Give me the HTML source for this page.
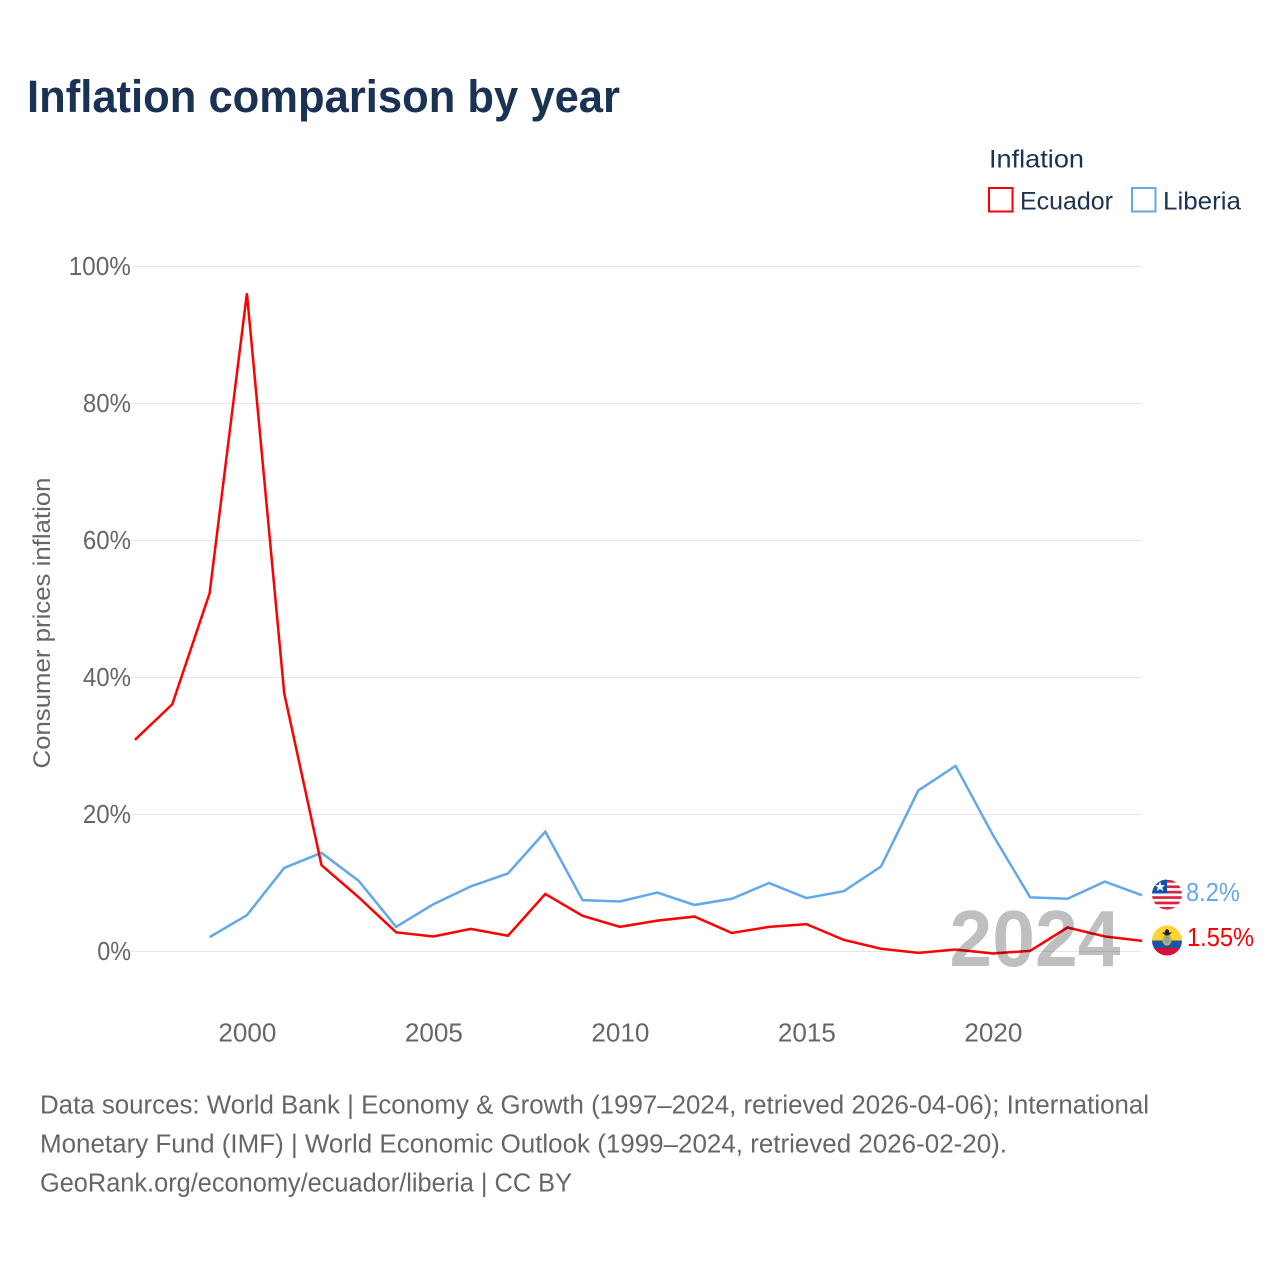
<!DOCTYPE html>
<html lang="en">
<head>
<meta charset="utf-8">
<title>Inflation comparison by year</title>
<style>
html,body{margin:0;padding:0;background:#fff;}
svg{display:block;font-family:"Liberation Sans",sans-serif;}
</style>
</head>
<body>
<svg id="chart" width="1280" height="1280" viewBox="0 0 1280 1280" xmlns="http://www.w3.org/2000/svg">
  <defs>
    <clipPath id="flag-lr"><circle cx="1167" cy="894.5" r="15"/></clipPath>
    <clipPath id="flag-ec"><circle cx="1167" cy="940.5" r="15"/></clipPath>
  </defs>
  <rect x="0" y="0" width="1280" height="1280" fill="#fff"/>
  <text x="27" y="112" font-size="45" font-weight="700" fill="#1a3355" textLength="593" lengthAdjust="spacingAndGlyphs">Inflation comparison by year</text>

  <g fill="#1a3355" font-size="25">
    <text x="989" y="167.5" textLength="95" lengthAdjust="spacingAndGlyphs">Inflation</text>
    <g>
      <rect x="989" y="188" width="23.5" height="23.5" fill="#fff" stroke="#ff0000" stroke-width="2"/>
      <text x="1020" y="209.5" textLength="93" lengthAdjust="spacingAndGlyphs">Ecuador</text>
    </g>
    <g>
      <rect x="1132" y="188" width="23.5" height="23.5" fill="#fff" stroke="#62a8ea" stroke-width="2"/>
      <text x="1163" y="209.5" textLength="78" lengthAdjust="spacingAndGlyphs">Liberia</text>
    </g>
  </g>

  <g id="grid"></g>
  <g id="y-ticks"></g>
  <g id="x-ticks"></g>
  <text transform="translate(50,623) rotate(-90)" text-anchor="middle" font-size="24" fill="#666" textLength="291" lengthAdjust="spacingAndGlyphs">Consumer prices inflation</text>

  <g id="series"></g>

  <text x="1035" y="966" text-anchor="middle" font-size="80" font-weight="700" fill="#000" fill-opacity="0.25" textLength="171" lengthAdjust="spacingAndGlyphs">2024</text>

  <g clip-path="url(#flag-lr)">
    <rect x="1152" y="879.5" width="30" height="30" fill="#fff"/>
    <rect x="1152" y="880" width="30" height="2.7" fill="#d8243c"/>
    <rect x="1152" y="885.4" width="30" height="2.7" fill="#d8243c"/>
    <rect x="1152" y="890.8" width="30" height="2.7" fill="#d8243c"/>
    <rect x="1152" y="896.2" width="30" height="2.7" fill="#d8243c"/>
    <rect x="1152" y="901.6" width="30" height="2.7" fill="#d8243c"/>
    <rect x="1152" y="907" width="30" height="2.7" fill="#d8243c"/>
    <rect x="1152" y="879.5" width="15" height="14" fill="#0f52a8"/>
    <polygon points="1160,881.5 1161.4,885 1165,885.2 1162.2,887.5 1163.2,891 1160,889 1156.8,891 1157.8,887.5 1155,885.2 1158.6,885" fill="#fff"/>
  </g>
  <g clip-path="url(#flag-ec)">
    <rect x="1152" y="925.5" width="30" height="15" fill="#fcd534"/>
    <rect x="1152" y="940.5" width="30" height="8" fill="#1a55a8"/>
    <rect x="1152" y="948" width="30" height="8" fill="#d80f37"/>
    <ellipse cx="1167" cy="940" rx="3.6" ry="4.6" fill="#6da6d8" stroke="#d9b02a" stroke-width="2"/>
    <polygon points="1162,932.5 1172,932.5 1168.5,935.5 1165.5,935.5" fill="#222"/>
    <circle cx="1167" cy="931.5" r="2.2" fill="#222"/>
  </g>
  <text x="1186" y="901" font-size="26" fill="#62a8ea" textLength="54" lengthAdjust="spacingAndGlyphs">8.2%</text>
  <text x="1187" y="946" font-size="26" fill="#ff0000" textLength="67" lengthAdjust="spacingAndGlyphs">1.55%</text>

  <g font-size="25.5" fill="#666">
    <text x="40" y="1113.5" textLength="1109" lengthAdjust="spacingAndGlyphs">Data sources: World Bank | Economy &amp; Growth (1997–2024, retrieved 2026-04-06); International</text>
    <text x="40" y="1152.5" textLength="967" lengthAdjust="spacingAndGlyphs">Monetary Fund (IMF) | World Economic Outlook (1999–2024, retrieved 2026-02-20).</text>
    <text x="40" y="1191.5" textLength="532" lengthAdjust="spacingAndGlyphs">GeoRank.org/economy/ecuador/liberia | CC BY</text>
  </g>
</svg>
<script>
const ecuadorYears = [1997,1998,1999,2000,2001,2002,2003,2004,2005,2006,2007,2008,2009,2010,2011,2012,2013,2014,2015,2016,2017,2018,2019,2020,2021,2022,2023,2024];
const ecuadorValues = [30.9,36.1,52.3,96.1,37.7,12.6,7.9,2.8,2.2,3.3,2.3,8.4,5.2,3.6,4.5,5.1,2.7,3.6,4.0,1.7,0.4,-0.2,0.3,-0.3,0.1,3.5,2.2,1.55];
const liberiaYears = [1999,2000,2001,2002,2003,2004,2005,2006,2007,2008,2009,2010,2011,2012,2013,2014,2015,2016,2017,2018,2019,2020,2021,2022,2023,2024];
const liberiaValues = [2.1,5.3,12.2,14.4,10.3,3.6,6.9,9.5,11.4,17.5,7.5,7.3,8.6,6.8,7.7,10.0,7.8,8.8,12.4,23.5,27.1,17.0,7.9,7.7,10.2,8.2];
const yTicks = [0,20,40,60,80,100];
const xTicks = [2000,2005,2010,2015,2020];

const SVG_NS = 'http://www.w3.org/2000/svg';
function xScale(year){ return 135 + (year - 1997) * 37.3; }
function yScale(v){ return 951.5 - v * 6.85; }
function make(tag, attrs, parent){
  const el = document.createElementNS(SVG_NS, tag);
  for (const k in attrs) el.setAttribute(k, attrs[k]);
  parent.appendChild(el);
  return el;
}
const grid = document.getElementById('grid');
const yGroup = document.getElementById('y-ticks');
const xGroup = document.getElementById('x-ticks');
const seriesGroup = document.getElementById('series');

yTicks.forEach(function(t){
  const line = make('line', {x1:131, x2:1141, y1:yScale(t), y2:yScale(t), stroke:'#e6e6e6', 'stroke-width':1}, grid);
  
  
  const text = t + '%';
  const label = make('text', {x:131, y:yScale(t)+8.5, 'text-anchor':'end', 'font-size':26, fill:'#666', textLength:(text.length-1)*14.3+19.5, lengthAdjust:'spacingAndGlyphs'}, yGroup);
  
  
  label.textContent = text;
});
xTicks.forEach(function(t){
  const label = make('text', {x:xScale(t)+0.5, y:1041.5, 'text-anchor':'middle', 'font-size':26, fill:'#666', textLength:58, lengthAdjust:'spacingAndGlyphs'}, xGroup);
  
  
  label.textContent = String(t);
});
function drawLine(years, values, color){
  const pts = years.map(function(yr, i){ return xScale(yr).toFixed(2) + ',' + yScale(values[i]).toFixed(2); }).join(' ');
  return make('polyline', {points:pts, fill:'none', stroke:color, 'stroke-width':2.5, 'stroke-linejoin':'miter'}, seriesGroup);
}
const liberiaLine = drawLine(liberiaYears, liberiaValues, '#62a8ea');


const ecuadorLine = drawLine(ecuadorYears, ecuadorValues, '#ff0000');


</script>
</body>
</html>
